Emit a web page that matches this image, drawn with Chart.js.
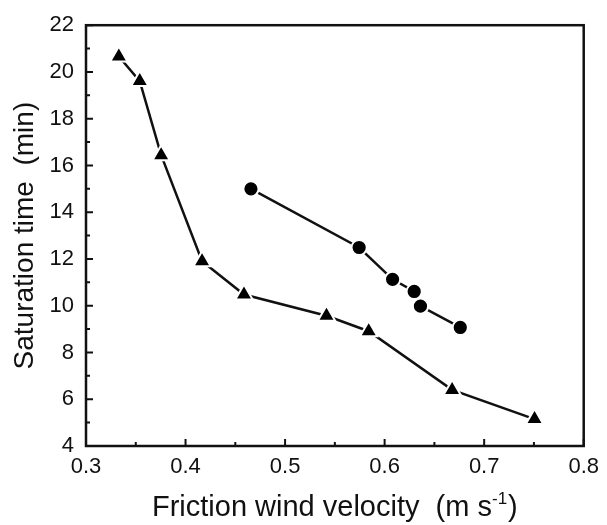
<!DOCTYPE html>
<html>
<head>
<meta charset="utf-8">
<script src="https://cdn.jsdelivr.net/npm/chart.js@4.4.1/dist/chart.umd.min.js"></script>
<style>
  html, body { margin: 0; padding: 0; background: #fff; }
  .wrap { width: 607px; height: 525px; position: relative; }
</style>
</head>
<body>
<div class="wrap"><canvas class="sat-chart"></canvas></div>
<script>
const triangleX = [0.333, 0.354, 0.3755, 0.4166, 0.4587, 0.5416, 0.584, 0.6678, 0.7506];
const triangleY = [20.66, 19.61, 16.44, 11.9, 10.48, 9.57, 8.91, 6.4, 5.15];
const circleX = [0.4657, 0.5744, 0.608, 0.6297, 0.636, 0.676];
const circleY = [15.0, 12.49, 11.13, 10.61, 9.98, 9.07];
const xTicks = [0.3, 0.4, 0.5, 0.6, 0.7, 0.8];
const yTicks = [4, 6, 8, 10, 12, 14, 16, 18, 20, 22];

const fontFamily = "'Liberation Sans', Arial, sans-serif";
const ink = "#111";

const toPoints = (xs, ys) => xs.map((x, i) => ({ x: x, y: ys[i] }));

// frame, inward ticks and the x title with its superscript
const framePlugin = {
  id: "frame",
  beforeDatasetsDraw(chart) {
    const { ctx, chartArea: a, scales } = chart;
    ctx.save();
    ctx.strokeStyle = ink;
    ctx.lineWidth = 2.5;
    ctx.strokeRect(a.left, a.top, a.right - a.left, a.bottom - a.top);

    ctx.lineWidth = 2;
    ctx.beginPath();
    xTicks.forEach((v, i) => {
      const px = scales.x.getPixelForValue(v);
      ctx.moveTo(px, a.bottom);
      ctx.lineTo(px, a.bottom - 7);
      if (i < xTicks.length - 1) {
        const mx = scales.x.getPixelForValue((v + xTicks[i + 1]) / 2);
        ctx.moveTo(mx, a.bottom);
        ctx.lineTo(mx, a.bottom - 4);
      }
    });
    yTicks.forEach((v, i) => {
      const py = scales.y.getPixelForValue(v);
      ctx.moveTo(a.left, py);
      ctx.lineTo(a.left + 7, py);
      if (i < yTicks.length - 1) {
        const my = scales.y.getPixelForValue((v + yTicks[i + 1]) / 2);
        ctx.moveTo(a.left, my);
        ctx.lineTo(a.left + 4, my);
      }
    });
    ctx.stroke();
    ctx.restore();
  },
  afterDraw(chart) {
    const { ctx, chartArea: a } = chart;
    const main = "Friction wind velocity  (m s";
    const sup = "-1";
    const close = ")";
    ctx.save();
    ctx.fillStyle = ink;
    ctx.textBaseline = "alphabetic";
    ctx.textAlign = "left";
    ctx.font = `29px ${fontFamily}`;
    const wMain = ctx.measureText(main).width;
    const wClose = ctx.measureText(close).width;
    ctx.font = `17px ${fontFamily}`;
    const wSup = ctx.measureText(sup).width;
    const total = wMain + wSup + 1 + wClose;
    let x = (a.left + a.right) / 2 - total / 2;
    const base = 516;
    ctx.font = `29px ${fontFamily}`;
    ctx.fillText(main, x, base);
    x += wMain;
    ctx.font = `17px ${fontFamily}`;
    ctx.fillText(sup, x, base - 12);
    x += wSup + 1;
    ctx.font = `29px ${fontFamily}`;
    ctx.fillText(close, x, base);
    ctx.restore();
  },
};

const ctx = document.querySelector(".sat-chart").getContext("2d");
const config = {
  type: "scatter",
  data: {
    datasets: [
      {
        label: "triangles",
        data: toPoints(triangleX, triangleY),
        showLine: true,
        borderColor: ink,
        backgroundColor: ink,
        borderWidth: 2.5,
        pointStyle: "triangle",
        pointRadius: 10,
        pointBorderWidth: 2,
        pointBackgroundColor: "#000",
        pointBorderColor: "#fff",
      },
      {
        label: "circles",
        data: toPoints(circleX, circleY),
        showLine: true,
        borderColor: ink,
        backgroundColor: ink,
        borderWidth: 2.5,
        pointStyle: "circle",
        pointRadius: 7.6,
        pointBorderWidth: 2,
        pointBackgroundColor: "#000",
        pointBorderColor: "#fff",
      },
    ],
  },
  options: {
    responsive: true,
    maintainAspectRatio: false,
    animation: false,
    layout: {
      padding: { left: 0, right: 18, top: 16, bottom: 0 },
    },
    scales: {
      x: {
        type: "linear",
        min: 0.3,
        max: 0.8,
        grid: { display: false, drawTicks: false, tickLength: 0 },
        border: { display: false },
        afterBuildTicks: (scale) => {
          scale.ticks = xTicks.map((v) => ({ value: v }));
        },
        afterFit: (scale) => {
          scale.height = 79;
        },
        ticks: {
          padding: 8,
          color: ink,
          font: { family: fontFamily, size: 22 },
          maxRotation: 0,
          callback: (v) => v.toFixed(1),
        },
      },
      y: {
        type: "linear",
        min: 4,
        max: 22,
        grid: { display: false, drawTicks: false, tickLength: 0 },
        border: { display: false },
        afterBuildTicks: (scale) => {
          scale.ticks = yTicks.map((v) => ({ value: v }));
        },
        afterFit: (scale) => {
          scale.width = 86;
        },
        ticks: {
          padding: 12,
          color: ink,
          font: { family: fontFamily, size: 22 },
          callback: (v) => String(v),
        },
        title: {
          display: true,
          text: "Saturation time  (min)",
          color: ink,
          font: { family: fontFamily, size: 28 },
          padding: { top: 8, bottom: 0 },
        },
      },
    },
    plugins: {
      legend: { display: false },
      tooltip: { enabled: false },
    },
  },
  plugins: [framePlugin],
};
new Chart(ctx, config);
</script>
</body>
</html>
